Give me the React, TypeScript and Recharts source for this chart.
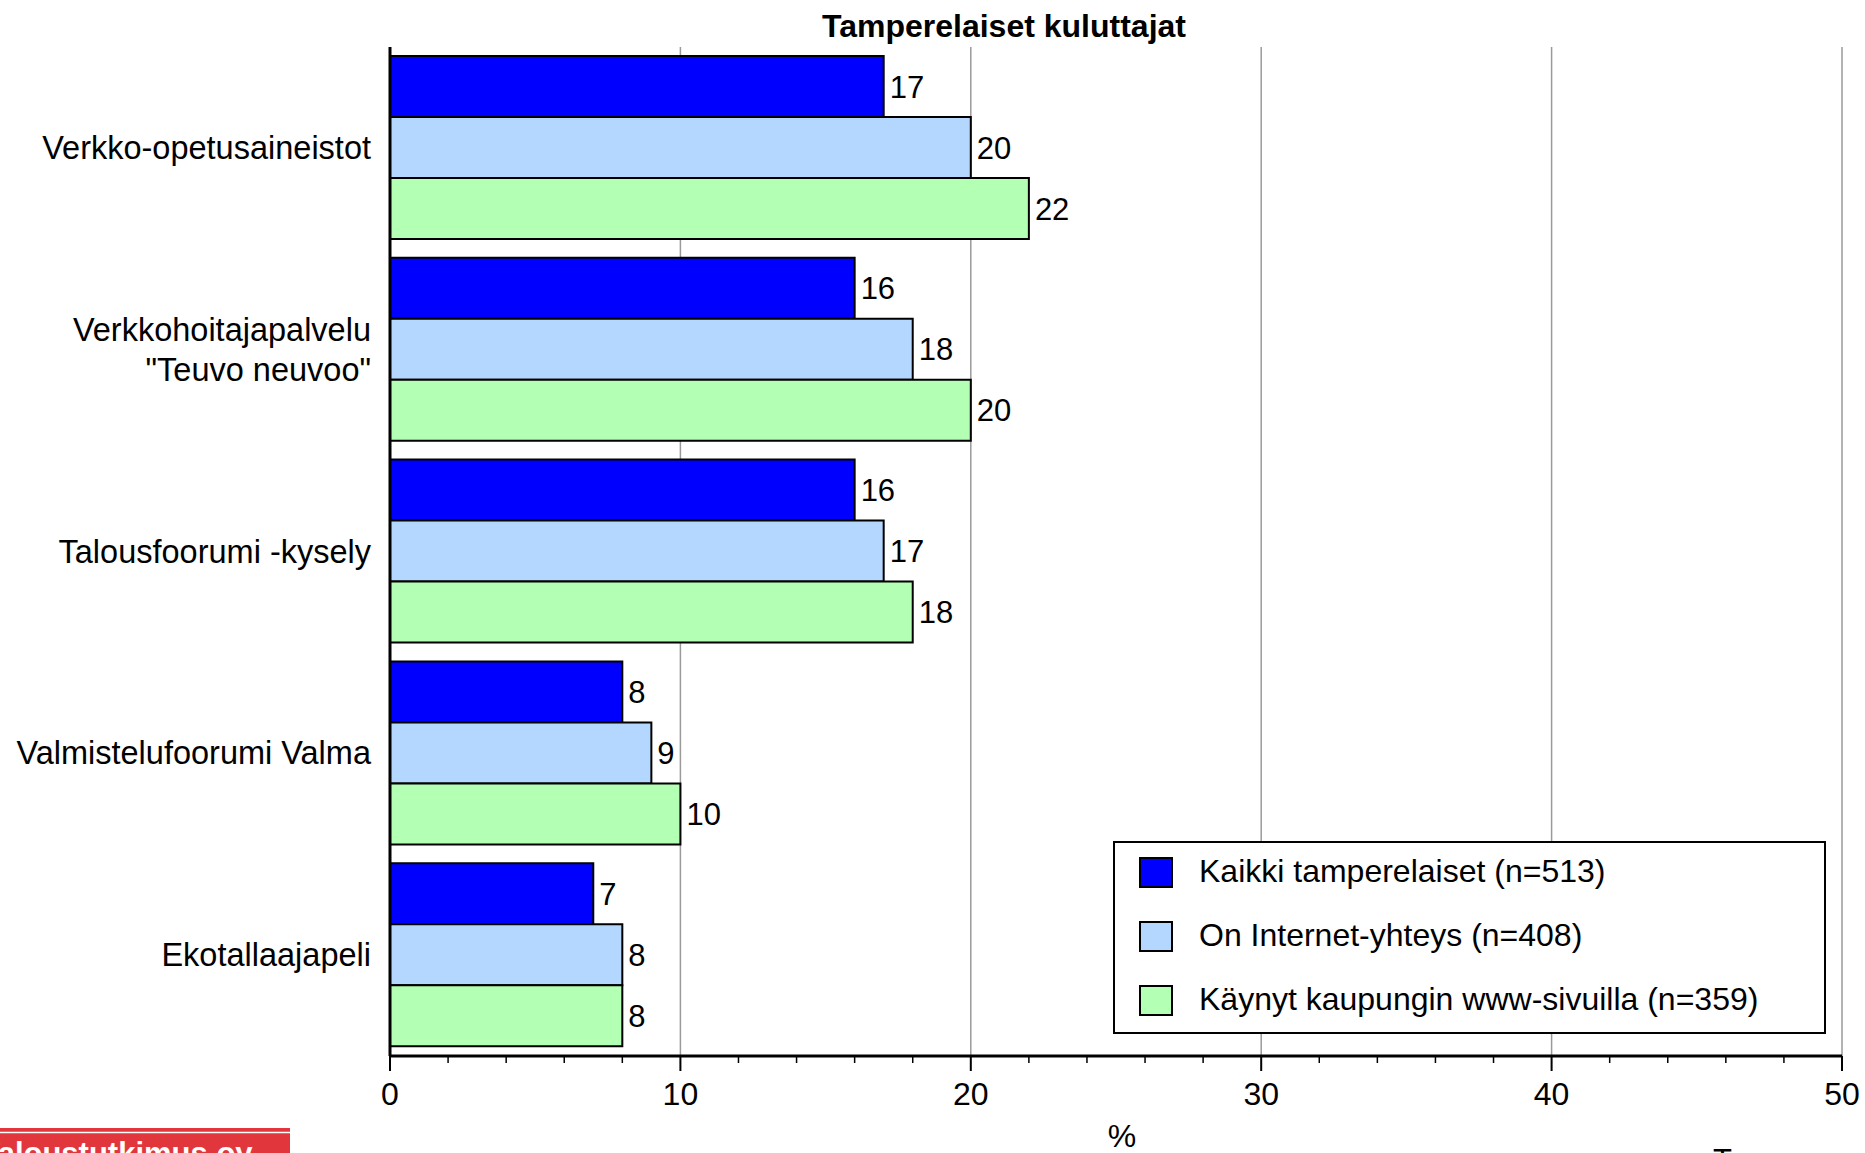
import React from 'react';
import { BarChart, Bar, XAxis, YAxis, ReferenceLine, LabelList, Legend } from 'recharts';

const categories = [
  'Verkko-opetusaineistot',
  'Verkkohoitajapalvelu\n"Teuvo neuvoo"',
  'Talousfoorumi -kysely',
  'Valmistelufoorumi Valma',
  'Ekotallaajapeli',
];
const kaikki = [17, 16, 16, 8, 7];
const internet = [20, 18, 17, 9, 8];
const kaynyt = [22, 20, 18, 10, 8];

const seriesNames = [
  'Kaikki tamperelaiset (n=513)',
  'On Internet-yhteys (n=408)',
  'Käynyt kaupungin www-sivuilla (n=359)',
];

const majorTicks = [0, 10, 20, 30, 40, 50];
const allTicks = [0, 2, 4, 6, 8, 10, 12, 14, 16, 18, 20, 22, 24, 26, 28, 30, 32, 34, 36, 38, 40, 42, 44, 46, 48, 50];

const FONT = '"Liberation Sans", Arial, sans-serif';

const rows = categories.map((name, i) => ({
  name,
  kaikki: kaikki[i],
  internet: internet[i],
  kaynyt: kaynyt[i],
}));

const XTick = (props: any) => {
  const { x, y, payload } = props;
  const major = majorTicks.includes(payload.value);
  return (
    <g>
      <line x1={x} y1={y} x2={x} y2={y + (major ? 15 : 7)} stroke="#000" strokeWidth={major ? 2 : 1.5} />
      {major && (
        <text x={x} y={y + 49} textAnchor="middle" fontSize={32} fontFamily={FONT} fill="#000">
          {payload.value}
        </text>
      )}
    </g>
  );
};

const YTick = (props: any) => {
  const { x, y, payload } = props;
  const lines = String(payload.value).split('\n');
  const lh = 40;
  const start = y - ((lines.length - 1) * lh) / 2 + 11;
  return (
    <text textAnchor="end" fontSize={32.5} fontFamily={FONT} fill="#000">
      {lines.map((l, i) => (
        <tspan key={i} x={x - 19} y={start + i * lh}>
          {l}
        </tspan>
      ))}
    </text>
  );
};

const LegendBox = (props: any) => {
  const items = [...(props.payload || [])].sort(
    (a: any, b: any) => seriesNames.indexOf(a.value) - seriesNames.indexOf(b.value)
  );
  return (
    <div
      style={{
        width: 713,
        height: 193,
        boxSizing: 'border-box',
        border: '2px solid #000',
        background: '#fff',
        position: 'relative',
        fontFamily: FONT,
      }}
    >
      {items.map((p: any, i: number) => (
        <div key={i} style={{ position: 'absolute', left: 0, top: 14 + i * 64, height: 32 }}>
          <div
            style={{
              position: 'absolute',
              left: 24,
              top: 0,
              width: 34,
              height: 31,
              boxSizing: 'border-box',
              border: '2px solid #000',
              background: p.color,
            }}
          />
          <span style={{ position: 'absolute', left: 84, top: -4, fontSize: 32, lineHeight: '37px', whiteSpace: 'nowrap', color: '#000' }}>
            {p.value}
          </span>
        </div>
      ))}
    </div>
  );
};

export default function App() {
  return (
    <div style={{ position: 'fixed', left: 0, top: 0, width: 1865, height: 1153, overflow: 'hidden', background: '#fff' }}>
      <BarChart
        width={1865}
        height={1153}
        layout="vertical"
        data={rows}
        margin={{ top: 47, right: 23, bottom: 0, left: 0 }}
        barCategoryGap={9}
        barGap={0}
      >
        {majorTicks.slice(1).map((t) => (
          <ReferenceLine key={t} x={t} stroke="#9a9a9a" strokeWidth={1.5} zIndex={-100} />
        ))}
        <XAxis
          type="number"
          domain={[0, 50]}
          ticks={allTicks}
          interval={0}
          height={97}
          tickSize={0}
          tickMargin={0}
          tickLine={false}
          tick={<XTick />}
          axisLine={{ stroke: '#000', strokeWidth: 3 }}
          label={{ value: '%', position: 'insideBottom', offset: 6, dx: 6, fontSize: 32, fontFamily: FONT, fill: '#000' }}
        />
        <XAxis
          xAxisId="top"
          orientation="top"
          type="number"
          domain={[0, 50]}
          height={0}
          tick={false}
          tickLine={false}
          axisLine={{ stroke: '#000', strokeWidth: 2 }}
        />
        <YAxis
          type="category"
          dataKey="name"
          width={390}
          tickSize={0}
          tickMargin={0}
          tickLine={false}
          tick={<YTick />}
          axisLine={{ stroke: '#000', strokeWidth: 3 }}
        />
        <Legend
          layout="vertical"
          align="center"
          verticalAlign="middle"
          content={<LegendBox />}
          wrapperStyle={{ left: 1113, top: 841, width: 713, height: 193 }}
        />
        <Bar dataKey="kaikki" name={seriesNames[0]} fill="#0000FF" stroke="#000" strokeWidth={2} isAnimationActive={false}>
          <LabelList dataKey="kaikki" position="right" offset={6} fontSize={31} fontFamily={FONT} fill="#000" />
        </Bar>
        <Bar dataKey="internet" name={seriesNames[1]} fill="#B4D7FF" stroke="#000" strokeWidth={2} isAnimationActive={false}>
          <LabelList dataKey="internet" position="right" offset={6} fontSize={31} fontFamily={FONT} fill="#000" />
        </Bar>
        <Bar dataKey="kaynyt" name={seriesNames[2]} fill="#B3FFB3" stroke="#000" strokeWidth={2} isAnimationActive={false}>
          <LabelList dataKey="kaynyt" position="right" offset={6} fontSize={31} fontFamily={FONT} fill="#000" />
        </Bar>
      </BarChart>
      <svg width={1865} height={1153} style={{ position: 'absolute', left: 0, top: 0, pointerEvents: 'none' }}>
        <text x={1004} y={37} textAnchor="middle" fontSize={32} fontWeight="bold" fontFamily={FONT} fill="#000">
          Tamperelaiset kuluttajat
        </text>
        <rect x={0} y={1128} width={290} height={25} fill="#E0363C" />
        <line x1={0} y1={1132.5} x2={290} y2={1132.5} stroke="#fff" strokeWidth={1.5} />
        <text x={-19} y={1164} fontSize={31} fontWeight="bold" fontFamily={FONT} fill="#fff">
          Taloustutkimus oy
        </text>
        <text x={1713} y={1171} fontSize={31} fontFamily={FONT} fill="#000">
          Tampereen kaupunki
        </text>
      </svg>
    </div>
  );
}
